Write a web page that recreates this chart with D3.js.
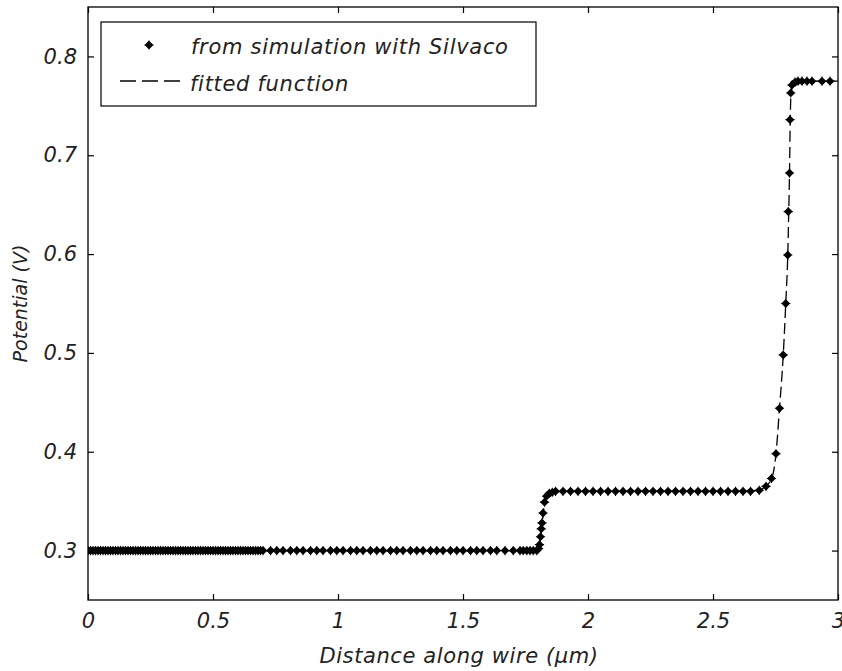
<!DOCTYPE html>
<html>
<head>
<meta charset="utf-8">
<script src="https://cdn.jsdelivr.net/npm/d3@7"></script>
<style>
  html, body { margin: 0; padding: 0; background: #fff; }
  svg text { font-family: "DejaVu Sans", Verdana, sans-serif; font-style: italic; fill: #222; }
</style>
</head>
<body>
<svg id="chart" width="842" height="671"></svg>
<script>
// ---------------- data ----------------
// simulation points on the low plateau (x in µm), potential level
const lowPlateauX = [
  0.00,0.01,0.02,0.03,0.04,0.05,0.06,0.07,0.08,0.09,
  0.10,0.11,0.12,0.13,0.14,0.15,0.16,0.17,0.18,0.19,
  0.20,0.21,0.22,0.23,0.24,0.25,0.26,0.27,0.28,0.29,
  0.30,0.31,0.32,0.33,0.34,0.35,0.36,0.37,0.38,0.39,
  0.40,0.41,0.42,0.43,0.44,0.45,0.46,0.47,0.48,0.49,
  0.50,0.51,0.52,0.53,0.54,0.55,0.56,0.57,0.58,0.59,
  0.60,0.61,0.62,0.63,0.64,0.65,0.66,0.67,0.68,0.69,
  0.70,0.73,0.755,0.78,0.81,0.835,0.86,0.89,0.915,0.94,
  0.97,0.995,1.02,1.05,1.075,1.10,1.13,1.155,1.18,1.21,
  1.235,1.26,1.29,1.315,1.34,1.37,1.395,1.42,1.45,1.475,
  1.50,1.53,1.555,1.58,1.61,1.635,1.668,1.701,1.728,1.741,
  1.755,1.768,1.781,1.795
];
const lowLevel = 0.300;

// simulation points on the middle plateau
const midPlateauX = [
  1.87,1.90,1.93,1.96,1.99,2.02,2.05,2.08,2.11,2.14,
  2.17,2.20,2.23,2.26,2.29,2.32,2.35,2.38,2.41,2.44,
  2.47,2.50,2.53,2.56,2.59,2.62,2.65
];
const midLevel = 0.360;

// simulation points on the first step (x, potential)
const step1X = [1.802, 1.806, 1.810, 1.813, 1.816, 1.820, 1.826, 1.834, 1.845, 1.857];
const step1Y = [0.302, 0.306, 0.314, 0.322, 0.328, 0.338, 0.349, 0.355, 0.358, 0.359];

// simulation points on the second step and top plateau
const step2X = [2.685, 2.712, 2.734, 2.752, 2.766, 2.781, 2.791, 2.799, 2.801, 2.806, 2.808, 2.811,
                2.816, 2.828, 2.840, 2.856, 2.876, 2.896, 2.936, 2.968];
const step2Y = [0.361, 0.365, 0.373, 0.398, 0.444, 0.498, 0.550, 0.599, 0.643, 0.682, 0.736, 0.763,
                0.771, 0.774, 0.775, 0.775, 0.775, 0.775, 0.775, 0.775];

// fitted function (dashed line)
const fitX = [0, 1.78, 1.795, 1.803, 1.809, 1.814, 1.819, 1.826, 1.836, 1.850, 1.870, 1.90,
              2.60, 2.68, 2.71, 2.735, 2.752, 2.766, 2.781, 2.791, 2.799, 2.803, 2.806, 2.809, 2.812,
              2.818, 2.830, 2.85, 3.0];
const fitY = [0.300, 0.300, 0.301, 0.305, 0.312, 0.322, 0.334, 0.347, 0.354, 0.358, 0.3595, 0.360,
              0.360, 0.361, 0.365, 0.373, 0.398, 0.444, 0.498, 0.550, 0.599, 0.643, 0.682, 0.736, 0.763,
              0.771, 0.774, 0.775, 0.775];

const xTicks = [0, 0.5, 1, 1.5, 2, 2.5, 3];
const yTicks = [0.3, 0.4, 0.5, 0.6, 0.7, 0.8];
const xTickLabels = ["0", "0.5", "1", "1.5", "2", "2.5", "3"];
const yTickLabels = ["0.3", "0.4", "0.5", "0.6", "0.7", "0.8"];
const xDomain = [0, 3];
const yDomain = [0.25, 0.85];
const legendLabels = ["from simulation with Silvaco", "fitted function"];
const xLabel = "Distance along wire (\u03BCm)";
const yLabel = "Potential (V)";

// ---------------- build ----------------
const simPoints = []
  .concat(lowPlateauX.map(x => ({x, y: lowLevel})))
  .concat(step1X.map((x, i) => ({x, y: step1Y[i]})))
  .concat(midPlateauX.map(x => ({x, y: midLevel})))
  .concat(step2X.map((x, i) => ({x, y: step2Y[i]})));
const fitPoints = fitX.map((x, i) => ({x, y: fitY[i]}));

const svg = d3.select("#chart");
const L = 88, R = 838, T = 7, B = 600;

const x = d3.scaleLinear().domain(xDomain).range([L, R]);
const y = d3.scaleLinear().domain(yDomain).range([B, T]);

const clipId = "plotclip";
svg.append("clipPath").attr("id", clipId)
  .append("rect").attr("x", L).attr("y", T).attr("width", R - L).attr("height", B - T);

// fitted line
const line = d3.line().x(d => x(d.x)).y(d => y(d.y)).curve(d3.curveMonotoneX);
svg.append("path")
  .datum(fitPoints)
  .attr("clip-path", `url(#${clipId})`)
  .attr("d", line)
  .attr("fill", "none")
  .attr("stroke", "#000")
  .attr("stroke-width", 1.3)
  .attr("stroke-dasharray", "11,5");

// markers: filled diamond with small cross
function markerPath(hw, hh, arm) {
  const p = d3.path();
  p.moveTo(0, -hh); p.lineTo(hw, 0); p.lineTo(0, hh); p.lineTo(-hw, 0); p.closePath();
  p.moveTo(-arm, 0); p.lineTo(arm, 0);
  p.moveTo(0, -arm); p.lineTo(0, arm);
  return p.toString();
}
const mPath = markerPath(3.6, 3.6, 4.6);
svg.append("g").attr("clip-path", `url(#${clipId})`)
  .selectAll("path.m")
  .data(simPoints)
  .join("path")
  .attr("class", "m")
  .attr("d", mPath)
  .attr("transform", d => `translate(${x(d.x)},${y(d.y)})`)
  .attr("fill", "#000")
  .attr("stroke", "#000")
  .attr("stroke-width", 1.1);

// axes (ticks inside, mirrored)
const tickLen = 6;
const axStyle = g => {
  g.select(".domain").remove();
  g.selectAll(".tick line").attr("stroke", "#000").attr("stroke-width", 1.2);
};
const tickText = g => g.selectAll("text").attr("font-size", 21).attr("fill", "#222")
  .attr("font-family", "DejaVu Sans").attr("font-style", "italic");
svg.append("g").attr("transform", `translate(0,${B})`)
  .call(d3.axisBottom(x).tickValues(xTicks).tickSize(-tickLen).tickPadding(13)
        .tickFormat((d, i) => xTickLabels[i]))
  .call(axStyle).call(tickText);
svg.append("g").attr("transform", `translate(0,${T})`)
  .call(d3.axisTop(x).tickValues(xTicks).tickSize(-tickLen).tickFormat(""))
  .call(axStyle);
svg.append("g").attr("transform", `translate(${L},0)`)
  .call(d3.axisLeft(y).tickValues(yTicks).tickSize(-tickLen).tickPadding(11)
        .tickFormat((d, i) => yTickLabels[i]))
  .call(axStyle).call(tickText);
svg.append("g").attr("transform", `translate(${R},0)`)
  .call(d3.axisRight(y).tickValues(yTicks).tickSize(-tickLen).tickFormat(""))
  .call(axStyle);

// box
svg.append("rect").attr("x", L).attr("y", T).attr("width", R - L).attr("height", B - T)
  .attr("fill", "none").attr("stroke", "#000").attr("stroke-width", 1.3);

// axis labels
svg.append("text").attr("x", 459).attr("y", 663)
  .attr("text-anchor", "middle").attr("font-size", 21).attr("letter-spacing", 0.6).text(xLabel);
svg.append("text").attr("transform", `translate(27,${(T + B) / 2}) rotate(-90)`)
  .attr("text-anchor", "middle").attr("font-size", 19).text(yLabel);

// legend
const lg = svg.append("g");
lg.append("rect").attr("x", 101).attr("y", 22).attr("width", 435).attr("height", 84)
  .attr("fill", "#fff").attr("stroke", "#000").attr("stroke-width", 1.2);
lg.append("path").attr("d", mPath).attr("transform", "translate(149,45)")
  .attr("fill", "#000").attr("stroke", "#000").attr("stroke-width", 1.1);
lg.append("text").attr("x", 191).attr("y", 54).attr("font-size", 21).attr("letter-spacing", 0.7)
  .text(legendLabels[0]);
lg.append("line").attr("x1", 120).attr("x2", 182).attr("y1", 81).attr("y2", 81)
  .attr("stroke", "#000").attr("stroke-width", 1.3).attr("stroke-dasharray", "16,6");
lg.append("text").attr("x", 190).attr("y", 91).attr("font-size", 21).attr("letter-spacing", 0.7)
  .text(legendLabels[1]);
</script>
</body>
</html>
